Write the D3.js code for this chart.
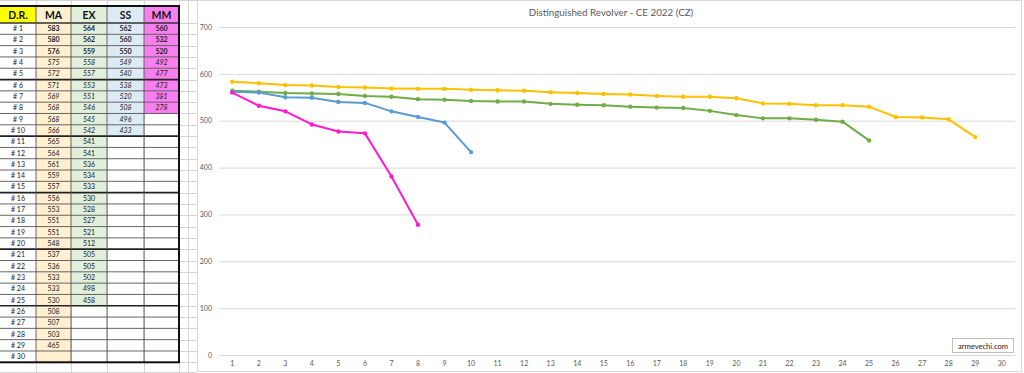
<!DOCTYPE html>
<html><head><meta charset="utf-8">
<script src="https://cdn.jsdelivr.net/npm/d3@7"></script>
<style>html,body{margin:0;padding:0;background:#fff;}svg{display:block;}</style>
</head><body>
<svg id="c" width="1024" height="373"></svg>
<script>
const rounds = d3.range(1, 31);
const seriesNames = ["MA", "EX", "SS", "MM"];
const MA = [583,580,576,575,572,571,569,568,568,566,565,564,561,559,557,556,553,551,551,548,537,536,533,533,530,508,507,503,465];
const EX = [564,562,559,558,557,553,551,546,545,542,541,541,536,534,533,530,528,527,521,512,505,505,502,498,458];
const SS = [562,560,550,549,540,538,520,508,496,433];
const MM = [560,532,520,492,477,473,381,278];
const yTicks = [0,100,200,300,400,500,600,700];
const title = "Distinguished Revolver - CE 2022 (CZ)";
const watermark = "armevechi.com";

const series = [MA, EX, SS, MM];
const lineColors = ["#FFC000", "#70AD47", "#5B9BD5", "#FF1ACD"];
const cellColors = ["#FEF0D0", "#E2EFDA", "#DDEBF7", "#F77FF0"];
const headColors = ["#FFFF00", "#FEF0D0", "#E2EFDA", "#DDEBF7", "#F77FF0"];
const FONT = "Lato, 'Open Sans', sans-serif";

const svg = d3.select("#c");
svg.append("rect").attr("width",1024).attr("height",373).attr("fill","#fff");

// ---------- spreadsheet table ----------
const colX = [0,36,71,107,144,179];
const headTop = 6, headBot = 23, rowH = 11.31;
const rowY = i => headBot + i*rowH;
const tbl = svg.append("g");

// sheet gridlines (light)
const sheetG = tbl.append("g").attr("stroke","#D4D4D4").attr("stroke-width",1);
[36,71,107,144,179,188].forEach(x=>{
  sheetG.append("line").attr("x1",x+0.5).attr("x2",x+0.5).attr("y1",0).attr("y2",373);
});
d3.range(0,32).forEach(i=>{
  const y = Math.round(rowY(i))+0.5;
  sheetG.append("line").attr("x1",179).attr("x2",197).attr("y1",y).attr("y2",y);
});
sheetG.append("line").attr("x1",0).attr("x2",197).attr("y1",372.5).attr("y2",372.5);
sheetG.append("line").attr("x1",0).attr("x2",197).attr("y1",0.5).attr("y2",0.5);

// header cells
const headers = ["D.R."].concat(seriesNames);
headers.forEach((h,j)=>{
  tbl.append("rect").attr("x",colX[j]).attr("y",headTop).attr("width",colX[j+1]-colX[j]).attr("height",headBot-headTop).attr("fill",headColors[j]);
  tbl.append("text").attr("x",(colX[j]+colX[j+1])/2).attr("y",headBot-4.5).attr("text-anchor","middle")
    .attr("font-family",FONT).attr("font-weight","bold").attr("font-size",10.5).attr("fill","#111").text(h);
});
// body cells
rounds.forEach((r,i)=>{
  const y0 = rowY(i);
  tbl.append("text").attr("x",(colX[0]+colX[1])/2).attr("y",y0+rowH/2+2.5).attr("text-anchor","middle")
    .attr("font-family",FONT).attr("font-size",7).attr("fill","#222").text("# " + r);
  series.forEach((s,j)=>{
    const v = s[i];
    const x0 = colX[j+1], x1 = colX[j+2];
    const filled = v !== undefined || j === 0;
    if (filled) tbl.append("rect").attr("x",x0).attr("y",y0).attr("width",x1-x0).attr("height",rowH).attr("fill",cellColors[j]);
    if (v !== undefined) {
      tbl.append("text").attr("x",(x0+x1)/2).attr("y",y0+rowH/2+2.5).attr("text-anchor","middle")
        .attr("font-family",FONT).attr("font-size",7).attr("fill","#222")
        .attr("font-weight", i < 3 ? "bold" : "normal")
        .attr("font-style", (i >= 3 && i < 10) ? "italic" : "normal")
        .text(v);
    }
  });
});
// table borders
const bd = tbl.append("g").attr("stroke","#333").attr("fill","none");
d3.range(1,30).forEach(i=>{
  const y = rowY(i);
  bd.append("line").attr("x1",0).attr("x2",179).attr("y1",y).attr("y2",y)
    .attr("stroke-width", i % 5 === 0 ? 1.7 : 0.9).attr("stroke", i % 5 === 0 ? "#222" : "#555");
});
bd.append("line").attr("x1",0).attr("x2",179).attr("y1",headBot).attr("y2",headBot).attr("stroke-width",1.7);
colX.slice(1,5).forEach(x=>{
  bd.append("line").attr("x1",x).attr("x2",x).attr("y1",headTop).attr("y2",rowY(30)).attr("stroke-width",0.9).attr("stroke","#555");
});
bd.append("rect").attr("x",-1).attr("y",headTop).attr("width",180).attr("height",rowY(30)-headTop).attr("stroke-width",2).attr("stroke","#111");

// ---------- chart ----------
svg.append("rect").attr("x",197.5).attr("y",0.5).attr("width",824).attr("height",371).attr("fill","#fff").attr("stroke","#D9D9D9");

const x = d3.scaleBand().domain(rounds).range([219,1015]);
const y = d3.scaleLinear().domain([0,700]).range([355,27]);
const cx = d => x(d) + x.bandwidth()/2;

const yAx = svg.append("g").attr("transform","translate(219,0)")
  .call(d3.axisLeft(y).tickValues(yTicks).tickSize(-796).tickPadding(7));
yAx.select(".domain").remove();
yAx.selectAll(".tick line").attr("stroke","#D9D9D9");
yAx.selectAll(".tick text").attr("font-family",FONT).attr("font-size",7).attr("fill","#595959");

const xAx = svg.append("g").attr("transform","translate(0,355)")
  .call(d3.axisBottom(x).tickSize(0).tickPadding(6));
xAx.select(".domain").attr("stroke","#D9D9D9");
xAx.selectAll(".tick text").attr("font-family",FONT).attr("font-size",7).attr("fill","#595959");

svg.append("text").attr("x",611).attr("y",16).attr("text-anchor","middle")
  .attr("font-family",FONT).attr("font-size",9.8).attr("fill","#595959").text(title);

const line = d3.line().x((d,i)=>cx(rounds[i])).y(d=>y(d));
series.forEach((s,j)=>{
  const g = svg.append("g");
  g.append("path").datum(s).attr("d",line).attr("fill","none").attr("stroke",lineColors[j])
    .attr("stroke-width",2).attr("stroke-linejoin","round").attr("stroke-linecap","round");
  g.selectAll("circle").data(s).join("circle").attr("cx",(d,i)=>cx(rounds[i])).attr("cy",d=>y(d))
    .attr("r",2.2).attr("fill",lineColors[j]);
});

// watermark
svg.append("rect").attr("x",952.5).attr("y",338.5).attr("width",61).attr("height",14).attr("fill","#fff").attr("stroke","#BFBFBF");
svg.append("text").attr("x",983).attr("y",348.5).attr("text-anchor","middle")
  .attr("font-family",FONT).attr("font-size",7.6).attr("fill","#222").text(watermark);
</script>
</body></html>
